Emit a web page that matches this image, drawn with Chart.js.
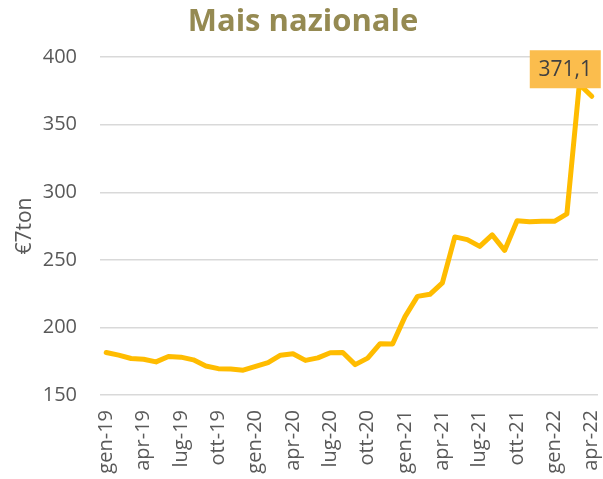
<!DOCTYPE html>
<html>
<head>
<meta charset="utf-8">
<script src="https://cdn.jsdelivr.net/npm/chart.js@4"></script>
<style>
html,body{margin:0;padding:0;background:#fff;}
#wrap{width:603px;height:479px;}
</style>
</head>
<body>
<div id="wrap"><canvas id="c" width="603" height="479"></canvas></div>
<script>
const months = ["gen","feb","mar","apr","mag","giu","lug","ago","set","ott","nov","dic"];
const categories = [];
for (let y = 19; y <= 22; y++) {
  for (let m = 0; m < 12; m++) {
    if (y === 22 && m > 3) break;
    categories.push(months[m] + "-" + y);
  }
}
const prices = [181.5,179.5,177.0,176.5,174.5,178.5,178.0,176.0,171.5,169.5,
                169.3,168.4,171.2,174.0,179.5,180.5,175.6,177.5,181.3,181.5,
                172.5,177.3,188.0,187.8,208.0,223.0,224.5,233.0,267.0,265.0,
                260.0,268.5,257.0,279.0,278.2,278.5,278.5,284.0,380.0,371.1];
const yTicks = [150,200,250,300,350,400];
const lastLabel = "371,1";

const labelPlugin = {
  id: 'lastLabel',
  afterDatasetsDraw(chart) {
    const meta = chart.getDatasetMeta(0);
    const pt = meta.data[meta.data.length - 1];
    const ctx = chart.ctx;
    const w = 71, h = 38;
    const right = pt.x + 9, bottom = pt.y - 8;
    ctx.save();
    ctx.fillStyle = '#FBBD4D';
    ctx.fillRect(right - w, bottom - h, w, h);
    ctx.fillStyle = '#404040';
    ctx.font = '21px "Open Sans"';
    ctx.textAlign = 'center';
    ctx.textBaseline = 'middle';
    ctx.fillText(lastLabel, right - w / 2, bottom - h / 2 + 1);
    ctx.restore();
  }
};

new Chart(document.getElementById('c'), {
  type: 'line',
  data: {
    labels: categories,
    datasets: [{
      data: prices,
      borderColor: '#FFBC00',
      borderWidth: 5,
      pointRadius: 0,
      tension: 0,
      fill: false,
      borderCapStyle: 'round',
      borderJoinStyle: 'round'
    }]
  },
  options: {
    responsive: false,
    animation: false,
    layout: { padding: { left: 8, right: 5, top: 0, bottom: 0 } },
    plugins: {
      legend: { display: false },
      tooltip: { enabled: false },
      title: {
        display: true,
        text: 'Mais nazionale',
        color: '#958A52',
        font: { family: 'Open Sans', size: 31, weight: 'bold' },
        padding: { top: 4, bottom: 16 }
      }
    },
    scales: {
      x: {
        offset: true,
        grid: { display: false, drawTicks: false },
        border: { display: false },
        afterFit: (scale) => { scale.paddingRight = 0; scale.paddingLeft = 0; scale.height = 84; },
        ticks: {
          autoSkip: false,
          maxRotation: 90,
          minRotation: 90,
          color: '#595959',
          font: { family: 'Open Sans', size: 20 },
          padding: 15,
          callback: function(v, i) { return i % 3 === 0 ? categories[i] : null; }
        }
      },
      y: {
        min: 150,
        max: 400,
        afterBuildTicks: (axis) => { axis.ticks = yTicks.map(v => ({ value: v })); },
        afterFit: (scale) => { scale.width = 92; },
        grid: { color: '#D9D9D9', lineWidth: 1.5, drawTicks: false },
        border: { display: false },
        title: {
          display: true,
          text: '€7ton',
          color: '#595959',
          font: { family: 'Open Sans', size: 21 },
          padding: { top: 4, bottom: 4 }
        },
        ticks: {
          color: '#595959',
          font: { family: 'Open Sans', size: 20 },
          padding: 23
        }
      }
    }
  },
  plugins: [labelPlugin]
});
</script>
</body>
</html>
